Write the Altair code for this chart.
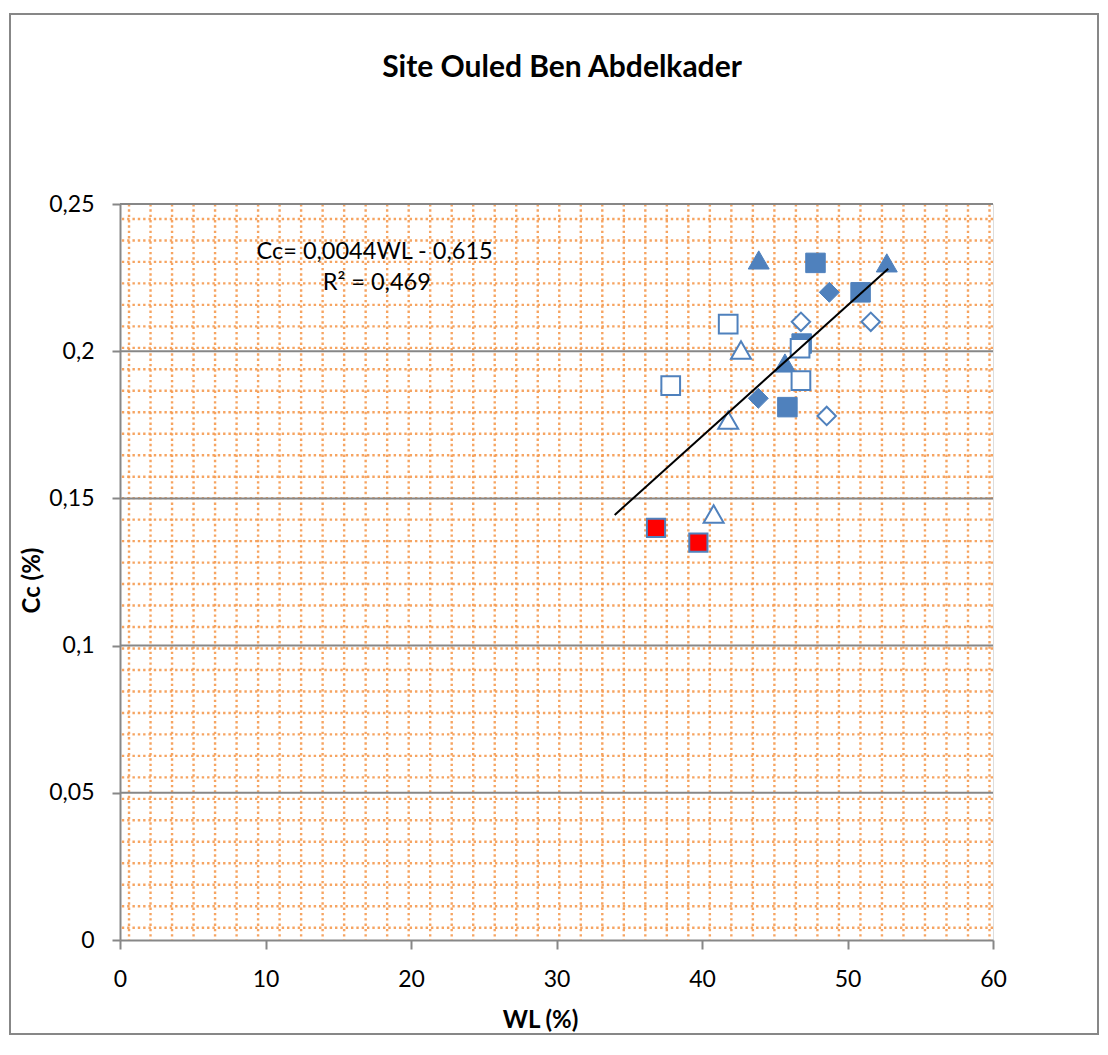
import altair as alt
import pandas as pd

# ---------------- data ----------------
filled_tri_wl = [43.9, 52.7, 45.7]
filled_tri_cc = [0.231, 0.230, 0.196]

filled_sq_wl = [47.8, 50.9, 46.85, 45.87]
filled_sq_cc = [0.230, 0.220, 0.2026, 0.181]

filled_dia_wl = [48.75, 43.87]
filled_dia_cc = [0.220, 0.184]

hollow_dia_wl = [46.8, 51.6, 48.57]
hollow_dia_cc = [0.210, 0.210, 0.178]

hollow_sq_wl = [41.8, 46.74, 37.85, 46.8]
hollow_sq_cc = [0.2092, 0.201, 0.1883, 0.190]

hollow_tri_wl = [42.68, 41.8, 40.8]
hollow_tri_cc = [0.2004, 0.1766, 0.1447]

red_sq_wl = [36.84, 39.75]
red_sq_cc = [0.140, 0.135]

trend_wl = [34.0, 52.8]
trend_cc = [0.1444, 0.228]

eq_text = ["Cc= 0,0044WL - 0,615", "R² = 0,469"]
eq_wl = [17.5, 17.65]
eq_cc = [0.2337, 0.2232]

x_ticks = [0, 10, 20, 30, 40, 50, 60]
y_ticks = [0, 0.05, 0.1, 0.15, 0.2, 0.25]
major_grid_cc = [0.05, 0.1, 0.15, 0.2, 0.25]

title_text = "Site Ouled Ben Abdelkader"

# ---------------- style ----------------
BLUE = "#4F81BD"
GRAY = "#878787"
ORANGE = "#F59A50"
FONT = "Lato"
W, H = 873, 736

# background dotted pattern positions (decoration)
dot_v = [0.62 + 1.4785 * k for k in range(41)]
dot_h = [0.00418 + 0.007295 * k for k in range(34)]

xscale = alt.Scale(domain=[0, 60], nice=False, zero=False)
yscale = alt.Scale(domain=[0, 0.25], nice=False, zero=False)

x_axis = alt.Axis(
    values=x_ticks, title="WL (%)", grid=False, labelFlush=False,
    domainColor=GRAY, domainWidth=2, tickColor=GRAY, tickWidth=2, tickSize=9,
    labelFont=FONT, labelFontSize=23, labelColor="black", labelPadding=19,
    titleFont=FONT, titleFontSize=24, titleFontWeight="bold", titleColor="black",
    titleX=420, titleY=80, titleAlign="center", titleBaseline="middle",
)
y_axis = alt.Axis(
    values=y_ticks, title="Cc (%)", grid=False, labelFlush=False,
    labelExpr="replace(format(datum.value, '~g'), '.', ',')",
    domainColor=GRAY, domainWidth=2, tickColor=GRAY, tickWidth=2, tickSize=8,
    labelFont=FONT, labelFontSize=23, labelColor="black", labelPadding=18,
    titleFont=FONT, titleFontSize=24, titleFontWeight="bold", titleColor="black",
    titleX=-88, titleY=376, titleAlign="center", titleBaseline="middle", titleAngle=270,
)

X = alt.X("wl:Q", scale=xscale, axis=x_axis)
Y = alt.Y("cc:Q", scale=yscale, axis=y_axis)

# outer frame (stroke only, so the axes underneath stay visible)
frame = alt.Chart(pd.DataFrame({"d": [0]})).mark_rect(
    fill="white", fillOpacity=0, stroke=GRAY, strokeWidth=2
).encode(
    x=alt.value(-110), x2=alt.value(W + 105), y=alt.value(-190), y2=alt.value(H + 94)
)

vdots = alt.Chart(pd.DataFrame({"wl": dot_v})).mark_rule(
    color=ORANGE, strokeWidth=2.4, strokeDash=[2.4, 2.93], opacity=0.9
).encode(x=X)

hdots = alt.Chart(pd.DataFrame({"cc": dot_h})).mark_rule(
    color=ORANGE, strokeWidth=2.4, strokeDash=[2.4, 2.93], opacity=0.9
).encode(y=Y)

major = alt.Chart(pd.DataFrame({"cc": major_grid_cc})).mark_rule(
    color=GRAY, strokeWidth=2
).encode(y=Y)


def pts(wl, cc, shape, fill, stroke, size, sw):
    return alt.Chart(pd.DataFrame({"wl": wl, "cc": cc})).mark_point(
        shape=shape, filled=True, fill=fill, stroke=stroke, strokeWidth=sw,
        size=size, opacity=1, fillOpacity=1, strokeOpacity=1
    ).encode(x=X, y=Y)


layers = [
    pts(filled_sq_wl, filled_sq_cc, "square", BLUE, BLUE, 380, 1),
    pts(filled_tri_wl, filled_tri_cc, "triangle-up", BLUE, BLUE, 440, 1),
    pts(filled_dia_wl, filled_dia_cc, "diamond", BLUE, BLUE, 400, 1),
    pts(hollow_dia_wl, hollow_dia_cc, "diamond", "white", BLUE, 340, 2),
    pts(hollow_sq_wl, hollow_sq_cc, "square", "white", BLUE, 350, 2),
    pts(hollow_tri_wl, hollow_tri_cc, "triangle-up", "white", BLUE, 400, 2),
    pts(red_sq_wl, red_sq_cc, "square", "#FF0000", BLUE, 330, 2),
]

trend = alt.Chart(pd.DataFrame({"wl": trend_wl, "cc": trend_cc})).mark_line(
    color="black", strokeWidth=2
).encode(x=X, y=Y)

eq = alt.Chart(pd.DataFrame({"wl": eq_wl, "cc": eq_cc, "t": eq_text})).mark_text(
    font=FONT, fontSize=23.5, color="black", align="center", baseline="middle"
).encode(x=X, y=Y, text="t:N")

title = alt.Chart(pd.DataFrame({"t": [title_text]})).mark_text(
    font=FONT, fontSize=30, fontWeight="bold", color="black", align="center", baseline="middle"
).encode(x=alt.value(442), y=alt.value(-136), text="t:N")

chart = alt.layer(frame, vdots, hdots, major, *layers, trend, eq, title).properties(
    width=W, height=H,
    padding={"left": 112, "top": 196, "right": 107, "bottom": 98},
    autosize=alt.AutoSizeParams(type="none"),
).configure_view(stroke="transparent").configure(background="white")

chart.save("out.html", embed_options={"renderer": "svg", "actions": False})
